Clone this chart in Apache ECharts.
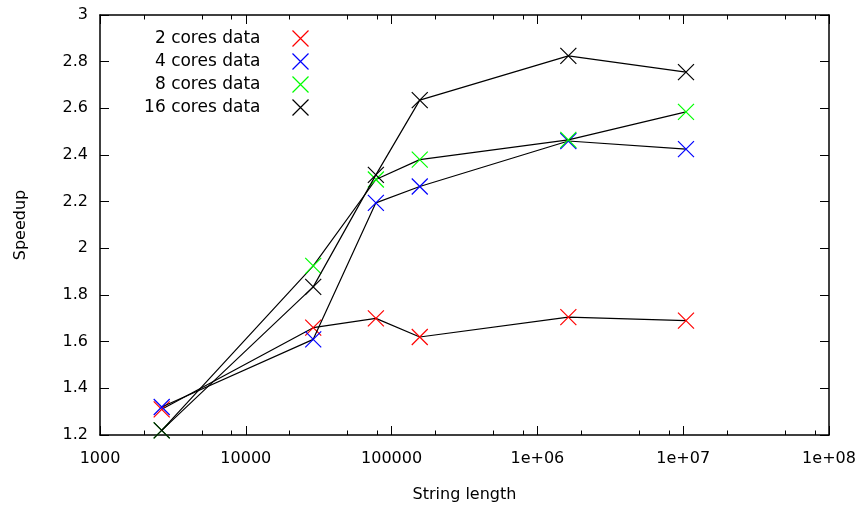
<!DOCTYPE html>
<html>
<head>
<meta charset="utf-8">
<script src="https://cdn.jsdelivr.net/npm/echarts@6/dist/echarts.min.js"></script>
<style>
html,body{margin:0;padding:0;background:#fff;}
#chart{width:863px;height:509px;}
</style>
</head>
<body>
<div id="chart"></div>
<script>
// ---- data ----
const stringLengths = [2650, 29000, 78000, 156000, 1630000, 10450000];
const cores2  = [1.31, 1.66, 1.70, 1.62, 1.705, 1.69];
const cores4  = [1.32, 1.61, 2.195, 2.265, 2.46, 2.425];
const cores8  = [1.22, 1.925, 2.295, 2.38, 2.465, 2.585];
const cores16 = [1.22, 1.835, 2.315, 2.635, 2.825, 2.755];
const seriesNames = ['2 cores data', '4 cores data', '8 cores data', '16 cores data'];
const seriesColors = ['#ff0000', '#0000ff', '#00ff00', '#000000'];
const xMajorTicks = [1000, 10000, 100000, 1000000, 10000000, 100000000];
const xTickLabels = ['1000', '10000', '100000', '1e+06', '1e+07', '1e+08'];
const xMinorTicks = [2000, 5000, 8000, 20000, 50000, 80000, 200000, 500000, 800000,
  2000000, 5000000, 8000000, 20000000, 50000000, 80000000];
const yMin = 1.2, yMax = 3, yStep = 0.2;

const allValues = [cores2, cores4, cores8, cores16];
const FONT = 'DejaVu Sans';
const X_SYMBOL = 'path://M0,0L16,16M16,0L0,16';
const LEGEND_ICON = 'path://M0,8L0,8M27,0L43,16M43,0L27,16';

const chart = echarts.init(document.getElementById('chart'), null, {renderer: 'canvas'});

function xAxisBase(extra) {
  return Object.assign({
    type: 'log', logBase: 10, min: 1000, max: 100000000,
    splitLine: {show: false},
    axisLine: {show: false},
    axisLabel: {show: false},
    axisTick: {show: false}
  }, extra);
}

const lineColor = '#000';
const xAxes = [
  xAxisBase({
    position: 'bottom',
    axisLine: {show: true, onZero: false, lineStyle: {color: lineColor, width: 1.5}},
    axisTick: {show: true, inside: true, length: 9, customValues: xMajorTicks, lineStyle: {color: lineColor, width: 1}},
    axisLabel: {show: true, margin: 16, customValues: xMajorTicks, color: '#000', fontFamily: FONT, fontSize: 16,
      formatter: v => xTickLabels[xMajorTicks.findIndex(t => Math.abs(Math.log10(t) - Math.log10(v)) < 1e-6)]},
    name: 'String length', nameLocation: 'middle', nameGap: 52,
    nameTextStyle: {color: '#000', fontFamily: FONT, fontSize: 16}
  }),
  xAxisBase({
    position: 'bottom',
    axisTick: {show: true, inside: true, length: 4.5, customValues: xMinorTicks, lineStyle: {color: lineColor, width: 1}}
  }),
  xAxisBase({
    position: 'top',
    axisLine: {show: true, onZero: false, lineStyle: {color: lineColor, width: 1.5}},
    axisTick: {show: true, inside: true, length: 9, customValues: xMajorTicks, lineStyle: {color: lineColor, width: 1}}
  }),
  xAxisBase({
    position: 'top',
    axisTick: {show: true, inside: true, length: 4.5, customValues: xMinorTicks, lineStyle: {color: lineColor, width: 1}}
  })
];

const yAxes = [
  {
    type: 'value', min: yMin, max: yMax, interval: yStep, position: 'left',
    splitLine: {show: false},
    axisLine: {show: true, onZero: false, lineStyle: {color: lineColor, width: 1.5}},
    axisTick: {show: true, inside: true, length: 9, lineStyle: {color: lineColor, width: 1}},
    axisLabel: {margin: 12, color: '#000', fontFamily: FONT, fontSize: 16,
      formatter: v => String(Math.round(v * 10) / 10)},
    name: 'Speedup', nameLocation: 'middle', nameGap: 71, nameRotate: 90,
    nameTextStyle: {color: '#000', fontFamily: FONT, fontSize: 16}
  },
  {
    type: 'value', min: yMin, max: yMax, interval: yStep, position: 'right',
    splitLine: {show: false},
    axisLine: {show: true, onZero: false, lineStyle: {color: lineColor, width: 1.5}},
    axisTick: {show: true, inside: true, length: 9, lineStyle: {color: lineColor, width: 1}},
    axisLabel: {show: false}
  }
];

const series = seriesNames.map((name, i) => ({
  name: name,
  type: 'line',
  xAxisIndex: 0, yAxisIndex: 0,
  data: stringLengths.map((x, j) => [x, allValues[i][j]]),
  symbol: X_SYMBOL,
  symbolSize: 16,
  showAllSymbol: true,
  itemStyle: {color: 'none', borderColor: seriesColors[i], borderWidth: 1.2},
  lineStyle: {color: '#000', width: 1.2},
  emphasis: {disabled: true},
  z: 2 + i
}));

const legendRowsTop = [28, 51, 74, 97];
const legends = seriesNames.map((name, i) => ({
  data: [{name: name, itemStyle: {color: 'none', borderColor: seriesColors[i], borderWidth: 1.2}}],
  orient: 'vertical',
  align: 'right',
  right: 863 - 311,
  top: legendRowsTop[i],
  padding: 0,
  icon: LEGEND_ICON,
  itemWidth: 43,
  itemHeight: 16,
  selectedMode: false,
  textStyle: {color: '#000', fontFamily: FONT, fontSize: 17}
}));

chart.setOption({
  animation: false,
  backgroundColor: '#fff',
  grid: {left: 100, right: 34, top: 15, bottom: 74, containLabel: false},
  legend: legends,
  xAxis: xAxes,
  yAxis: yAxes,
  series: series
});
</script>
</body>
</html>
